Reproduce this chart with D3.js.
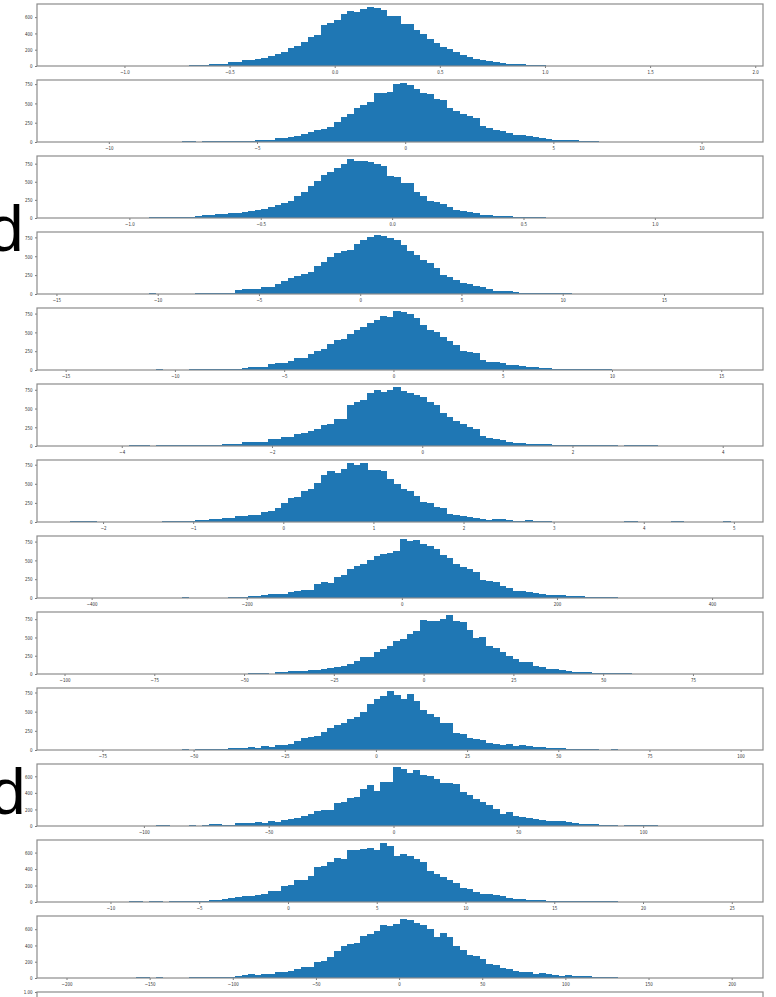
<!DOCTYPE html>
<html>
<head>
<meta charset="utf-8">
<script src="https://cdn.jsdelivr.net/npm/d3@7"></script>
<style>
  body { margin: 0; background: #fff; }
  svg text { font-family: "DejaVu Sans", sans-serif; }
</style>
</head>
<body>
<script>
// bin counts, 100 bins per histogram
var h01 = [1,0,0,0,0,0,0,0,0,0,
  0,0,0,3,3,2,4,6,8,10,
  18,22,28,30,55,45,68,75,85,100,
  118,150,175,220,250,290,350,380,500,525,
  560,640,680,660,705,725,715,690,620,610,
  520,515,445,395,335,285,235,205,178,140,
  105,80,75,58,48,40,30,22,20,14,
  10,10,6,5,4,4,3,1,4,4,
  0,0,0,0,0,0,0,0,0,0,
  0,0,0,0,0,0,0,0,0,1];
var h02 = [1,0,0,0,0,0,0,0,0,0,
  0,0,0,0,0,0,0,8,8,6,
  8,8,12,10,17,17,18,17,20,30,
  30,50,58,68,76,98,128,153,170,190,
  264,323,365,446,480,523,637,640,646,748,
  765,735,693,637,620,552,550,437,408,361,
  331,310,204,178,161,140,119,89,85,76,
  68,47,34,30,21,22,20,13,12,13,
  3,5,5,0,0,0,0,0,0,0,
  0,0,0,0,0,0,0,0,0,1];
var h03 = [1,0,0,0,0,0,0,0,0,0,
  0,0,9,9,9,12,18,18,18,27,
  36,45,50,54,63,72,80,90,112,130,
  157,179,202,237,300,358,435,515,591,632,
  690,748,815,780,784,770,748,717,582,569,
  479,478,354,300,237,220,188,157,112,90,
  76,63,40,40,31,30,22,18,18,9,
  9,9,5,5,5,0,0,0,0,0,
  0,0,0,0,0,0,0,0,0,0,
  0,0,0,0,0,0,0,0,0,1];
var h04 = [1,0,0,0,0,0,0,0,0,0,
  0,0,8,0,2,5,4,6,5,17,
  8,8,17,16,18,52,60,65,66,90,
  99,138,168,212,233,259,289,376,428,484,
  544,570,588,657,721,752,782,765,743,717,
  644,566,514,449,406,341,246,220,190,147,
  134,112,91,60,43,39,35,26,17,18,
  17,16,17,10,9,13,5,4,5,3,
  0,0,6,0,0,0,0,0,0,0,
  0,0,0,0,0,0,0,0,0,1];
var h05 = [1,0,0,0,0,0,0,0,0,0,
  0,0,0,9,0,0,4,4,17,15,
  17,16,17,15,18,17,25,35,35,44,
  78,87,88,122,153,166,209,253,275,340,
  397,414,480,528,567,619,667,724,706,785,
  776,750,689,602,536,506,436,384,327,253,
  240,231,135,109,100,87,70,68,57,44,
  35,26,22,13,17,13,12,10,13,9,
  10,9,5,5,5,0,0,0,0,0,
  0,0,0,0,0,0,0,0,0,1];
var h06 = [1,0,0,0,0,0,0,0,0,9,
  8,9,5,9,9,8,9,9,17,9,
  9,8,17,26,30,22,52,48,48,56,
  91,90,126,117,160,169,195,225,281,299,
  355,364,541,593,611,701,745,723,745,788,
  732,701,680,658,593,541,442,385,333,290,
  255,225,139,108,87,74,52,39,38,30,
  26,25,22,17,16,17,9,9,8,9,
  9,8,9,5,9,9,8,9,9,0,
  0,5,0,5,0,0,0,0,0,1];
var h07 = [9,9,9,9,0,4,4,4,4,4,
  4,4,4,4,13,13,13,13,13,26,
  26,35,39,48,52,73,78,91,90,125,
  147,181,255,311,333,406,436,514,609,665,
  644,696,773,752,773,687,678,665,557,492,
  428,406,341,268,255,190,181,104,91,82,
  69,56,39,26,43,42,26,17,17,22,
  13,13,13,4,4,4,4,4,4,4,
  4,4,4,4,9,9,0,0,0,0,
  0,9,9,0,0,0,0,0,0,9];
var h08 = [1,0,0,0,0,0,0,0,0,0,
  0,0,0,0,0,0,0,9,0,5,
  4,5,6,5,8,13,9,22,30,35,
  48,52,57,78,92,100,113,187,209,200,
  275,305,384,419,449,506,558,580,593,623,
  785,754,767,724,689,654,567,536,449,414,
  384,340,244,231,209,166,131,96,87,74,
  61,57,44,35,39,26,26,26,17,13,
  13,13,13,0,0,0,0,0,0,0,
  0,0,0,0,0,0,0,0,0,1];
var h09 = [1,0,0,0,0,0,0,0,0,0,
  0,0,0,0,0,0,0,0,0,0,
  0,0,0,0,0,0,0,9,9,9,
  5,22,31,35,35,40,49,53,62,84,
  98,111,133,173,231,230,306,342,386,453,
  484,542,586,733,728,728,750,808,719,710,
  599,497,510,386,351,297,253,200,164,165,
  107,93,75,62,53,44,31,22,22,13,
  9,9,9,9,9,0,0,0,0,0,
  0,0,0,0,0,0,0,0,0,1];
var h10 = [1,0,0,0,0,0,0,0,0,0,
  0,0,0,0,0,0,0,9,0,13,
  13,12,13,13,22,22,25,39,30,47,
  40,65,69,73,116,155,168,189,232,284,
  327,348,404,434,490,598,662,705,770,714,
  662,727,641,520,469,426,353,350,219,211,
  155,146,133,90,73,65,82,56,60,47,
  39,38,30,30,26,13,13,12,13,13,
  0,0,13,0,0,0,0,0,0,0,
  0,0,0,0,0,0,0,0,0,1];
var h11 = [1,0,0,0,0,0,0,0,0,0,
  0,0,0,8,8,0,0,0,8,0,
  16,24,20,16,16,32,36,36,48,40,
  63,51,71,83,99,123,143,182,190,198,
  277,289,341,348,447,495,428,527,527,713,
  685,645,673,618,606,566,515,515,507,408,
  376,329,289,249,210,143,170,119,111,99,
  83,71,59,55,55,48,40,24,28,20,
  12,12,12,0,12,8,8,8,8,0,
  0,0,0,0,0,0,0,0,0,1];
var h12 = [1,0,0,0,0,0,0,0,0,8,
  8,0,8,16,0,12,12,16,16,16,
  16,20,28,39,47,63,71,75,83,95,
  130,130,193,205,264,272,311,422,441,481,
  532,528,630,630,642,650,626,717,678,559,
  579,559,528,489,382,343,303,264,225,165,
  154,126,98,95,87,67,47,35,35,28,
  24,24,16,16,16,16,12,12,12,12,
  8,8,8,0,0,0,0,0,0,0,
  0,0,0,0,0,0,0,0,0,1];
var h13 = [1,0,0,0,0,0,0,0,0,0,
  8,8,0,8,0,0,0,0,16,8,
  8,8,16,16,16,28,40,48,40,52,
  52,76,76,80,112,140,140,200,211,259,
  327,399,419,427,511,539,579,646,638,670,
  726,718,678,650,606,507,559,499,399,339,
  279,267,231,172,160,120,108,88,72,72,
  48,56,48,32,24,32,20,20,24,12,
  12,12,12,0,0,0,0,0,0,0,
  0,0,0,0,0,0,0,0,0,1];

// data range (first and last bin edge) of each histogram
var lows  = [-1.259, -11.31, -1.226, -14.33, -14.80, -4.689, -2.367, -427.9, -98.47, -83.89, -129.6, -12.28, -197.9];
var highs = [1.880, 10.96, 1.286, 18.26, 15.40, 4.097, 4.957, 423.1, 85.32, 97.09, 134.8, 24.90, 199.0];

var xTicks = [
  [-1.0, -0.5, 0.0, 0.5, 1.0, 1.5, 2.0],
  [-10, -5, 0, 5, 10],
  [-1.0, -0.5, 0.0, 0.5, 1.0],
  [-15, -10, -5, 0, 5, 10, 15],
  [-15, -10, -5, 0, 5, 10, 15],
  [-4, -2, 0, 2, 4],
  [-2, -1, 0, 1, 2, 3, 4, 5],
  [-400, -200, 0, 200, 400],
  [-100, -75, -50, -25, 0, 25, 50, 75],
  [-75, -50, -25, 0, 25, 50, 75, 100],
  [-100, -50, 0, 50, 100],
  [-10, -5, 0, 5, 10, 15, 20, 25],
  [-200, -150, -100, -50, 0, 50, 100, 150, 200]
];
var xFormats = [".1f", "d", ".1f", "d", "d", "d", "d", "d", "d", "d", "d", "d", "d"];
var yTicks = [
  [0, 200, 400, 600],
  [0, 250, 500, 750], [0, 250, 500, 750], [0, 250, 500, 750], [0, 250, 500, 750],
  [0, 250, 500, 750], [0, 250, 500, 750], [0, 250, 500, 750], [0, 250, 500, 750],
  [0, 250, 500, 750],
  [0, 200, 400, 600], [0, 200, 400, 600], [0, 200, 400, 600]
];
// the last, empty axes is cut off: only its top tick shows
var emptyTicks = [1.0];

var counts = [h01, h02, h03, h04, h05, h06, h07, h08, h09, h10, h11, h12, h13];

var width = 776, height = 997;
var left = 37, top0 = 4, plotW = 726, plotH = 62, step = 76;
var squeeze = 0.72;

var svg = d3.select("body").append("svg")
    .attr("width", width)
    .attr("height", height);

function styleAxis(sel, isLeft) {
    sel.select(".domain").remove();
    sel.selectAll(".tick line").attr("stroke", "#555").attr("stroke-width", 0.8);
    sel.selectAll(".tick text")
        .attr("fill", "#333")
        .style("font-size", "5.5px")
        .attr("transform", "scale(" + squeeze + ",1)");
    if (isLeft) sel.selectAll(".tick text").attr("x", -4.5 / squeeze);
}

function frame(g) {
    g.append("rect")
        .attr("x", 0).attr("y", 0)
        .attr("width", plotW).attr("height", plotH)
        .attr("fill", "none")
        .attr("stroke", "#8c8c8c")
        .attr("stroke-width", 1.2);
}

counts.forEach(function (c, i) {
    var g = svg.append("g")
        .attr("transform", "translate(" + left + "," + (top0 + i * step) + ")");

    var lo = lows[i], hi = highs[i], n = c.length;
    var bw = (hi - lo) / n, pad = (hi - lo) * 0.05;

    var x = d3.scaleLinear().domain([lo - pad, hi + pad]).range([0, plotW]);
    var y = d3.scaleLinear().domain([0, d3.max(c) * 1.05]).range([plotH, 0]);

    g.append("g")
        .attr("shape-rendering", "crispEdges")
        .selectAll(".bar")
        .data(c)
        .enter().append("rect")
        .attr("class", "bar")
        .attr("x", function (d, j) { return x(lo + j * bw); })
        .attr("width", function (d, j) { return x(lo + (j + 1) * bw) - x(lo + j * bw) + 0.5; })
        .attr("y", function (d) { return y(d); })
        .attr("height", function (d) { return plotH - y(d); })
        .attr("fill", "#1f77b4");

    g.append("g")
        .attr("transform", "translate(0," + plotH + ")")
        .call(d3.axisBottom(x).tickValues(xTicks[i]).tickFormat(d3.format(xFormats[i])).tickSize(2).tickPadding(2.5))
        .call(styleAxis, false);

    g.append("g")
        .call(d3.axisLeft(y).tickValues(yTicks[i]).tickSize(2).tickPadding(2))
        .call(styleAxis, true);

    frame(g);
});

// last, empty axes, cut off by the bottom edge
var gLast = svg.append("g")
    .attr("transform", "translate(" + left + "," + (top0 + counts.length * step) + ")");
var yEmpty = d3.scaleLinear().domain([0, 1]).range([plotH, 0]);
gLast.append("g")
    .call(d3.axisLeft(yEmpty).tickValues(emptyTicks).tickFormat(d3.format(".2f")).tickSize(2).tickPadding(2))
    .call(styleAxis, true);
frame(gLast);

// stray big letters at the left edge
svg.append("text").attr("x", -12).attr("y", 251)
    .style("font-family", "'Liberation Sans', Arial, sans-serif")
    .style("font-size", "64px").attr("fill", "#000").text("d");
svg.append("text").attr("x", -10).attr("y", 814)
    .style("font-family", "'Liberation Sans', Arial, sans-serif")
    .style("font-size", "64px").attr("fill", "#000").text("d");
</script>
</body>
</html>
